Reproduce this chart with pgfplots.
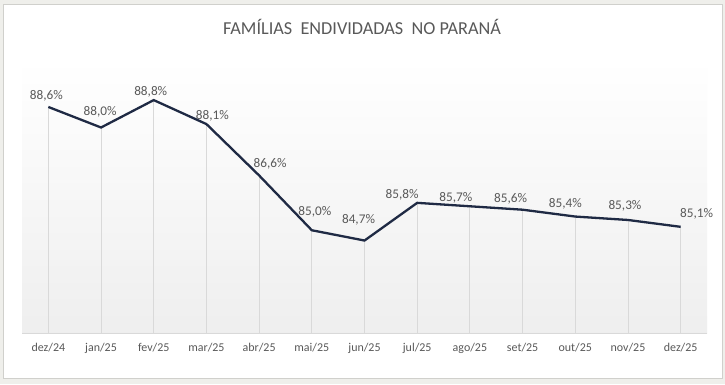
\documentclass[border=0pt]{standalone}
\usepackage{pgfplots}
\pgfplotsset{compat=1.18}
\usepackage{pgfplotstable}
\usepackage{fontspec}
\setmainfont{Carlito}
\definecolor{linec}{HTML}{1F2A44}
\definecolor{txt}{HTML}{595959}
\definecolor{gridc}{HTML}{D9D9D9}
\definecolor{frame}{HTML}{D0D0CC}
\definecolor{outer}{HTML}{EFEFEB}
\pgfplotstableread{
x y dx dy
0 88.6 -2 11
1 88.0 -1 16
2 88.8 -3 8
3 88.1 6 8
4 86.6 11 12
5 85.0 3 18
6 84.7 -6 21
7 85.8 -15 8
8 85.7 -14 8
9 85.6 -12 11
10 85.4 -10 13
11 85.3 -3 14
12 85.1 16 13
}\data
\begin{document}
\begin{tikzpicture}[x=1bp,y=1bp]
\fill[outer] (0,0) rectangle (725,384);
\fill[white,draw=frame,line width=0.8bp] (3,6) rectangle (722.5,380);
\node[text=txt,font=\fontsize{18.3}{21}\selectfont] at (362,357) {FAMÍLIAS\ \ ENDIVIDADAS\ \ NO PARANÁ};
\begin{axis}[
  at={(22bp,51bp)}, anchor=south west,
  scale only axis, width=685bp, height=274bp,
  xmin=-0.5, xmax=12.5, ymin=82, ymax=90,
  axis line style={draw=none},
  axis background/.style={shade, top color=white, bottom color=gray!13},
  xtick={0,...,12},
  xticklabels={dez/24,jan/25,fev/25,mar/25,abr/25,mai/25,jun/25,jul/25,ago/25,set/25,out/25,nov/25,dez/25},
  xticklabel style={text=txt,font=\fontsize{12}{14}\selectfont,yshift=-7bp},
  major tick length=0pt,
  ytick=\empty,
  clip=true,
]
\addplot[ycomb, draw=gridc, line width=0.8bp, mark=none] table[x=x,y=y] {\data};
\draw[gridc, line width=1bp] (axis cs:-0.5,82) -- (axis cs:12.5,82);
\addplot[linec, line width=2.3bp, mark=none,
  point meta=y,
  visualization depends on={\thisrow{dx} \as \dx},
  visualization depends on={\thisrow{dy} \as \dy},
  nodes near coords={\pgfmathprintnumber[fixed,fixed zerofill,precision=1,use comma,assume math mode=true]{\pgfplotspointmeta}\%},
  every node near coord/.append style={anchor=center, text=txt, font=\fontsize{13.3}{15}\selectfont, xshift=\dx bp, yshift=\dy bp},
] table[x=x,y=y] {\data};
\end{axis}
\end{tikzpicture}
\end{document}
